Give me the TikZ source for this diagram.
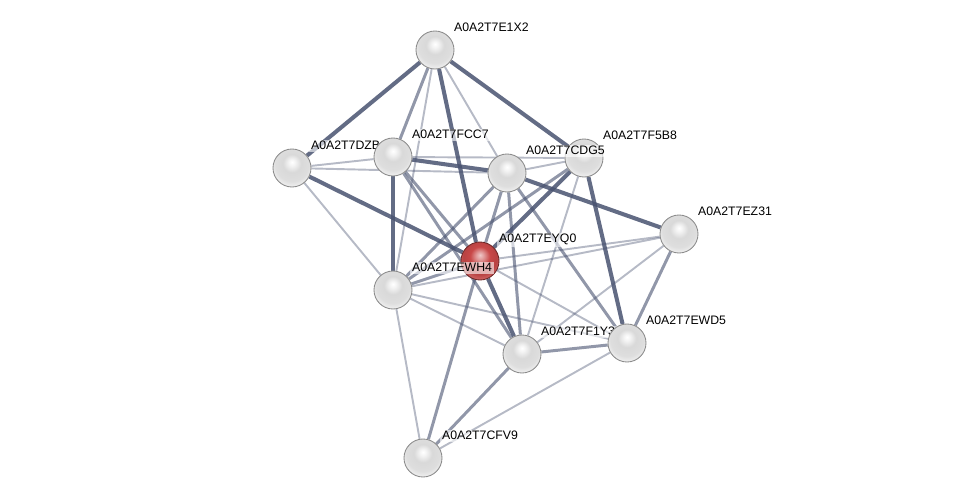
\documentclass[tikz,border=0pt]{standalone}
\usepackage{fontspec}
\setmainfont{Liberation Sans}
\usetikzlibrary{backgrounds}

\definecolor{edgeline}{RGB}{72,82,112}
\definecolor{nodered}{RGB}{200,72,72}

\pgfdeclareradialshading{greysphere}{\pgfpoint{0bp}{8bp}}{%
  color(0bp)=(white); color(4bp)=(black!4); color(12bp)=(black!15);
  color(22bp)=(black!13); color(28bp)=(black!6); color(31bp)=(black!25);
  color(34bp)=(black!45); color(50bp)=(black!45)}
\pgfdeclareradialshading{redsphere}{\pgfpoint{0bp}{8bp}}{%
  color(0bp)=(nodered!30!white); color(5bp)=(nodered!55!white);
  color(13bp)=(nodered); color(22bp)=(nodered!92!black);
  color(28bp)=(nodered!85!white); color(32bp)=(nodered!70!black);
  color(50bp)=(nodered!70!black)}

\begin{document}
\begin{tikzpicture}[x=0.02cm, y=-0.02cm,
    every node/.style={font=\fontsize{7}{8}\selectfont},
    protein/.style={circle, minimum size=0.76cm, inner sep=0pt, shade, shading=greysphere, draw=black!45, line width=0.5pt},
    query/.style={protein, shading=redsphere, draw=nodered!55!black},
    protlabel/.style={anchor=base west, fill=white, fill opacity=0.6, text opacity=1, inner sep=1pt},
    strong/.style={draw=edgeline, line width=2.3pt, opacity=0.85},
    medium/.style={draw=edgeline, line width=1.7pt, opacity=0.6},
    weak/.style={draw=edgeline, line width=1.1pt, opacity=0.4}]

    \useasboundingbox (0,0) rectangle (975,503);

    \newcommand{\protein}[5]{%
        \node[#5] (#1) at (#2,#3) {};
        \node[protlabel] (#1-label) at ([shift={(17,-18)}]#1.center) {#4};
    }

    % Proteins, drawn in the order they overlap.
    \protein{e1x2}{435}{50}{A0A2T7E1X2}{protein}
    \protein{dzb}{292}{168}{A0A2T7DZB}{protein}
    \protein{fcc7}{393}{157}{A0A2T7FCC7}{protein}
    \protein{f5b8}{584}{158}{A0A2T7F5B8}{protein}
    \protein{cdg5}{507}{173}{A0A2T7CDG5}{protein}
    \protein{ez31}{679}{234}{A0A2T7EZ31}{protein}
    \protein{eyq0}{480}{261}{A0A2T7EYQ0}{query}
    \protein{ewh4}{393}{290}{A0A2T7EWH4}{protein}
    \protein{f1y3}{522}{354}{A0A2T7F1Y3}{protein}
    \protein{ewd5}{627}{343}{A0A2T7EWD5}{protein}
    \protein{cfv9}{423}{458}{A0A2T7CFV9}{protein}

    % Interactions, weakest first.
    \begin{scope}[on background layer]
        \draw[weak] (e1x2) -- (ewh4);
        \draw[weak] (e1x2) -- (cdg5);
        \draw[weak] (dzb) -- (fcc7);
        \draw[weak] (dzb) -- (cdg5);
        \draw[weak] (dzb) -- (ewh4);
        \draw[weak] (fcc7) -- (f5b8);
        \draw[weak] (cdg5) -- (f5b8);
        \draw[weak] (f5b8) -- (f1y3);
        \draw[weak] (ez31) -- (eyq0);
        \draw[weak] (ez31) -- (ewh4);
        \draw[weak] (ez31) -- (f1y3);
        \draw[weak] (eyq0) -- (ewd5);
        \draw[weak] (ewh4) -- (f1y3);
        \draw[weak] (ewh4) -- (ewd5);
        \draw[weak] (ewh4) -- (cfv9);
        \draw[weak] (cfv9) -- (ewd5);

        \draw[medium] (e1x2) -- (fcc7);
        \draw[medium] (fcc7) -- (eyq0);
        \draw[medium] (fcc7) -- (f1y3);
        \draw[medium] (cdg5) -- (ewh4);
        \draw[medium] (cdg5) -- (eyq0);
        \draw[medium] (cdg5) -- (f1y3);
        \draw[medium] (cdg5) -- (ewd5);
        \draw[medium] (f5b8) -- (ewh4);
        \draw[medium] (eyq0) -- (ewh4);
        \draw[medium] (ez31) -- (ewd5);
        \draw[medium] (f1y3) -- (ewd5);
        \draw[medium] (f1y3) -- (cfv9);
        \draw[medium] (eyq0) -- (cfv9);

        \draw[strong] (e1x2) -- (dzb);
        \draw[strong] (e1x2) -- (eyq0);
        \draw[strong] (e1x2) -- (f5b8);
        \draw[strong] (dzb) -- (eyq0);
        \draw[strong] (fcc7) -- (ewh4);
        \draw[strong] (fcc7) -- (cdg5);
        \draw[strong] (cdg5) -- (ez31);
        \draw[strong] (f5b8) -- (eyq0);
        \draw[strong] (f5b8) -- (ewd5);
        \draw[strong] (eyq0) -- (f1y3);
    \end{scope}
\end{tikzpicture}
\end{document}
